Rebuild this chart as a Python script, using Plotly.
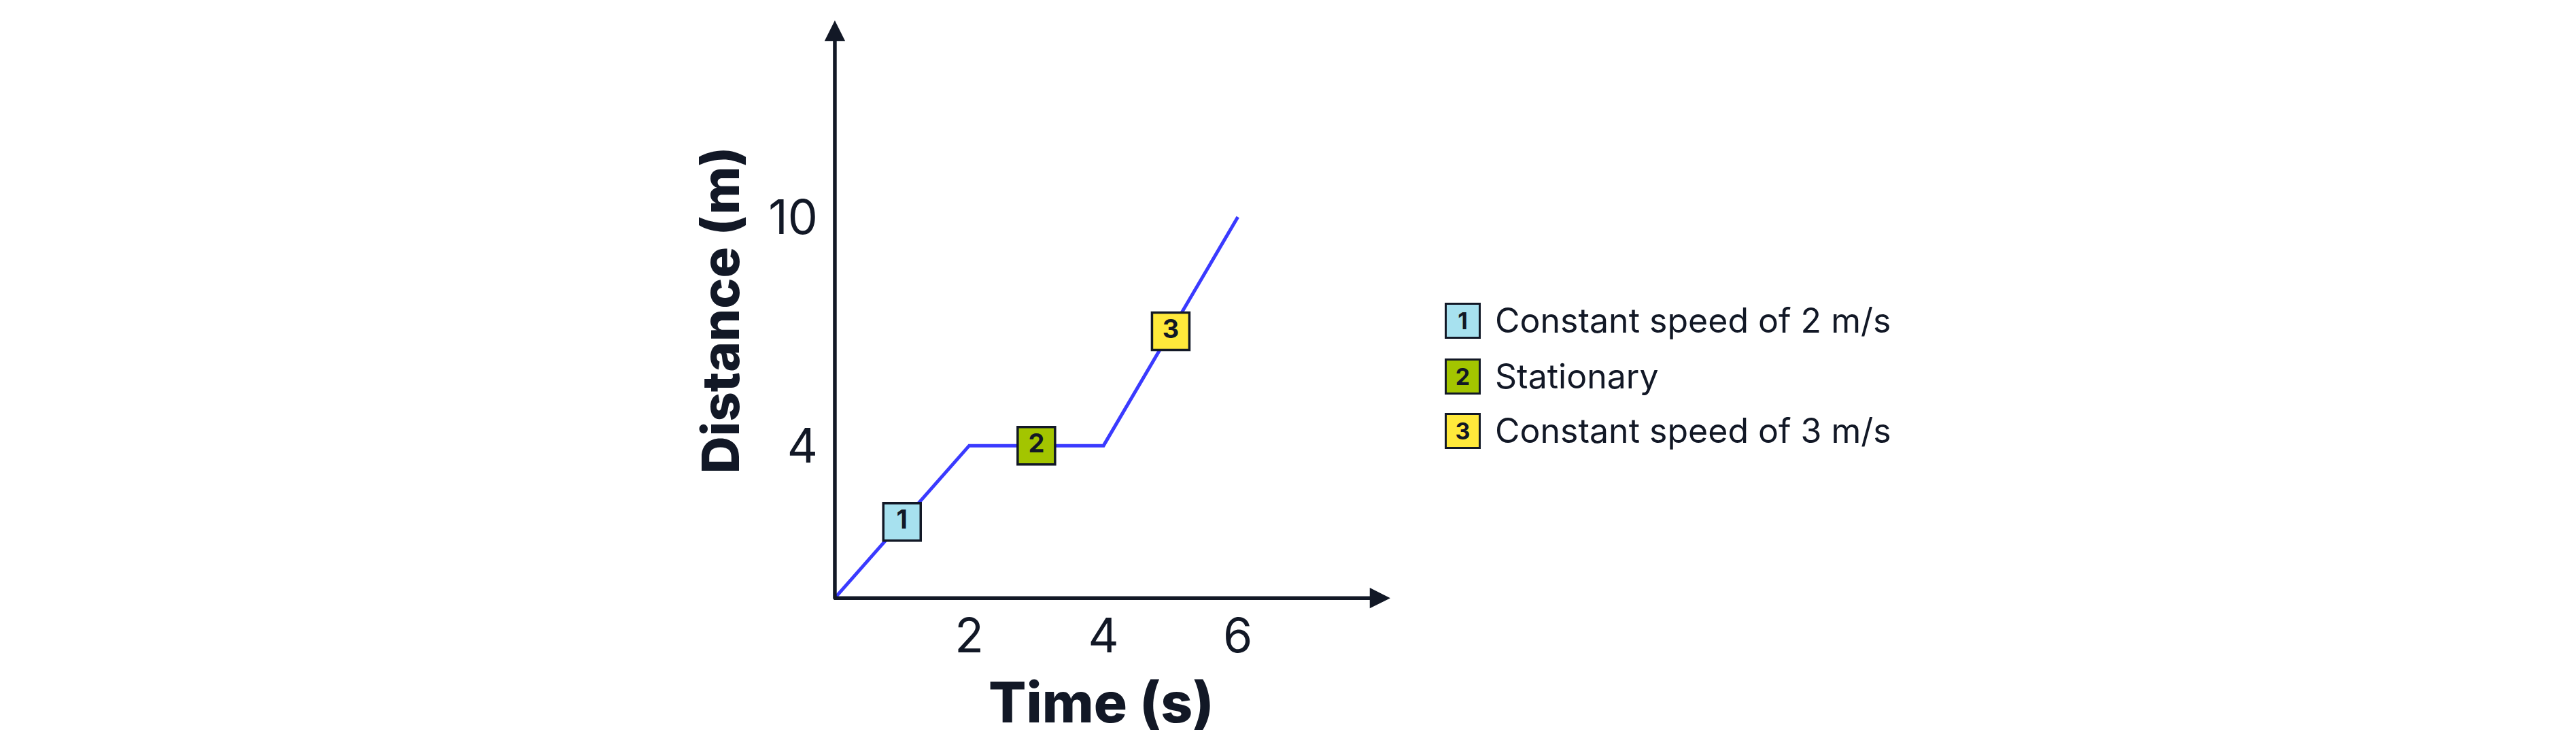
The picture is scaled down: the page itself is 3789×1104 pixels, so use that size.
import plotly.graph_objects as go

# distance-time graph data
time_s = [0, 2, 4, 6]
distance_m = [0, 4, 4, 10]

# numbered section markers on the line
section_ids = ["1", "2", "3"]
section_t = [1, 3, 5]
section_d = [2, 4, 7]
section_colors = ["#a7e1ef", "#a3c500", "#ffe93b"]
section_labels = ["Constant speed of 2 m/s", "Stationary", "Constant speed of 3 m/s"]

x_ticks = [2, 4, 6]
y_ticks = [4, 10]

INK = "#121826"
LINE_BLUE = "#3a3aff"
FONT = "Inter"

X_RANGE = [-0.03, 8.27]
Y_RANGE = [-0.05, 15.16]

# plot box in page pixels
L, R, T, B = 1217, 1752, 22, 230
W, H = 3789, 1104
plot_w = W - L - R
plot_h = H - T - B


def px_to_paper_x(px):
    return (px - L) / plot_w


def px_to_paper_y(py):
    return (H - B - py) / plot_h


fig = go.Figure()

fig.add_trace(go.Scatter(
    x=time_s, y=distance_m, mode="lines",
    line=dict(color=LINE_BLUE, width=5),
    hoverinfo="skip", showlegend=False,
))

fig.add_trace(go.Scatter(
    x=section_t, y=section_d, mode="markers+text",
    text=section_ids, textposition="middle center",
    textfont=dict(family=FONT, size=38, color=INK, weight=700),
    marker=dict(symbol="square", size=55, color=section_colors,
                line=dict(color=INK, width=3.5)),
    cliponaxis=False, showlegend=False,
))

# axes drawn as arrows
annotations = [
    dict(x=X_RANGE[1], y=0, ax=X_RANGE[0], ay=0, xref="x", yref="y",
         axref="x", ayref="y", text="", showarrow=True, arrowhead=2,
         arrowsize=1.1, arrowwidth=5.5, arrowcolor=INK),
    dict(x=0, y=Y_RANGE[1], ax=0, ay=Y_RANGE[0], xref="x", yref="y",
         axref="x", ayref="y", text="", showarrow=True, arrowhead=2,
         arrowsize=1.1, arrowwidth=5.5, arrowcolor=INK),
    dict(x=3.97, y=px_to_paper_y(1024), xref="x", yref="paper",
         text="Time (s)", showarrow=False, xanchor="center", yanchor="middle",
         font=dict(family=FONT, size=82, color=INK, weight=800)),
]

# legend on the right, built from annotations
leg_box_x = px_to_paper_x(2143)
leg_text_x = px_to_paper_x(2189)
leg_y = [px_to_paper_y(v) for v in (463, 545, 625)]
for sid, col, lab, yy in zip(section_ids, section_colors, section_labels, leg_y):
    annotations.append(dict(
        x=leg_box_x, y=yy, xref="paper", yref="paper", text=sid,
        showarrow=False, bgcolor=col, bordercolor=INK, borderwidth=3,
        borderpad=0, width=47, height=47,
        font=dict(family=FONT, size=34, color=INK, weight=700),
        xanchor="center", yanchor="middle",
    ))
    annotations.append(dict(
        x=leg_text_x, y=yy, xref="paper", yref="paper", text=lab,
        showarrow=False, xanchor="left", yanchor="middle",
        font=dict(family=FONT, size=50, color=INK),
    ))

fig.update_layout(
    width=W, height=H,
    margin=dict(l=L, r=R, t=T, b=B),
    paper_bgcolor="white", plot_bgcolor="white",
    font=dict(family=FONT, color=INK),
    xaxis=dict(
        range=X_RANGE, showgrid=False, zeroline=False, showline=False,
        tickvals=x_ticks, ticks="", tickfont=dict(size=70, color=INK),
        ticklabelstandoff=6,
    ),
    yaxis=dict(
        range=Y_RANGE, showgrid=False, zeroline=False, showline=False,
        tickvals=y_ticks, ticks="", tickfont=dict(size=70, color=INK),
        ticklabelstandoff=21,
        title=dict(text="Distance (m)", font=dict(size=76, color=INK, weight=800),
                   standoff=17),
    ),
    annotations=annotations,
    showlegend=False,
)

fig.write_html("out.html")
